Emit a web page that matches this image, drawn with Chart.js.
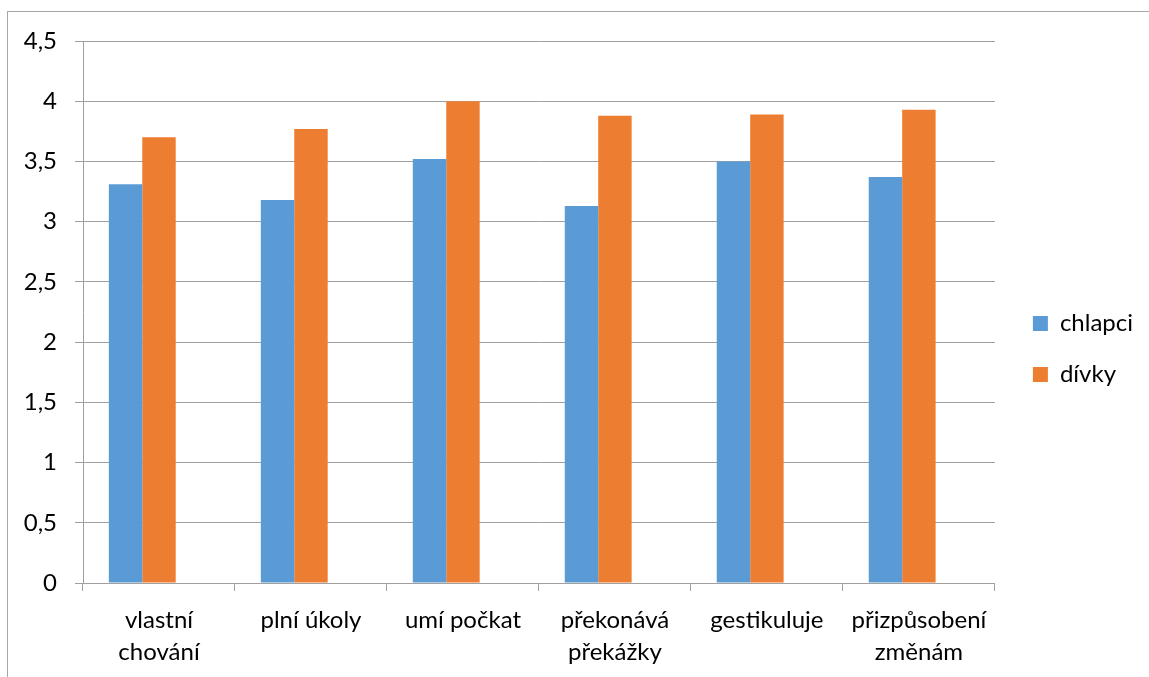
<!DOCTYPE html>
<html lang="cs">
<head>
<meta charset="utf-8">
<title>chlapci a dívky</title>
<script src="https://cdn.jsdelivr.net/npm/chart.js@4"></script>
<style>
  html, body { margin: 0; padding: 0; background: #ffffff; }
  #wrap { position: relative; width: 1149px; height: 677px; overflow: hidden; }
  #frame { position: absolute; left: 7px; top: 11px; width: 1200px; height: 700px;
           border-top: 1px solid #a6a6a6; border-left: 1px solid #a6a6a6; }
  #chart { position: absolute; left: 0; top: 0; }
</style>
</head>
<body>
<div id="wrap">
  <div id="frame"></div>
  <canvas id="chart" width="1149" height="677"></canvas>
</div>
<script>
// Categories (x axis), one group of bars each
const categories = [
  ['vlastní', 'chování'],
  'plní úkoly',
  'umí počkat',
  ['překonává', 'překážky'],
  'gestikuluje',
  ['přizpůsobení', 'změnám']
];

// Series values
const chlapci = [3.31, 3.18, 3.52, 3.13, 3.50, 3.37];
const divky   = [3.70, 3.77, 4.00, 3.88, 3.89, 3.93];
// third series of the sheet holds no values, but keeps its slot in each group
const prazdna = [null, null, null, null, null, null];

// Value axis ticks
const yTicks = [0, 0.5, 1, 1.5, 2, 2.5, 3, 3.5, 4, 4.5];

const gridColor = '#a0a0a0';
const textColor = '#000000';
const fontFamily = 'Lato, "Open Sans", sans-serif';
const fontSize = 24;

// moves the legend a little away from its layout slot
const legendShift = {
  id: 'legendShift',
  afterLayout(chart, args, opts) {
    const lg = chart.legend;
    if (lg) {
      lg.left += opts.dx; lg.right += opts.dx;
      lg.top += opts.dy; lg.bottom += opts.dy;
    }
  }
};

new Chart(document.getElementById('chart'), {
  type: 'bar',
  data: {
    labels: categories,
    datasets: [
      { label: 'chlapci', data: chlapci, backgroundColor: '#5B9BD5', borderWidth: 0 },
      { label: 'dívky',   data: divky,   backgroundColor: '#ED7D31', borderWidth: 0 },
      { label: '',        data: prazdna, backgroundColor: '#A5A5A5', borderWidth: 0 }
    ]
  },
  plugins: [legendShift],
  options: {
    responsive: false,
    animation: false,
    devicePixelRatio: 1,
    layout: { padding: { left: 0, top: 41, right: 17, bottom: 0 } },
    datasets: { bar: { categoryPercentage: 0.66, barPercentage: 1.0 } },
    plugins: {
      legendShift: { dx: 11, dy: -10 },
      tooltip: { enabled: false },
      legend: {
        position: 'right',
        align: 'center',
        labels: {
          boxWidth: 15,
          boxHeight: 15,
          padding: 27,
          color: textColor,
          font: { family: fontFamily, size: fontSize },
          filter: (item) => item.text !== ''
        }
      }
    },
    scales: {
      x: {
        afterFit: (scale) => { scale.height = 94; },
        grid: {
          display: true,
          offset: true,
          drawOnChartArea: false,
          drawTicks: true,
          tickLength: 8,
          color: gridColor,
          lineWidth: 1
        },
        border: { display: true, color: gridColor, width: 1 },
        ticks: {
          autoSkip: false,
          maxRotation: 0,
          minRotation: 0,
          padding: 13,
          color: textColor,
          font: { family: fontFamily, size: fontSize, lineHeight: 1.34 }
        }
      },
      y: {
        min: yTicks[0],
        max: yTicks[yTicks.length - 1],
        afterFit: (scale) => { scale.width = 83; },
        afterBuildTicks: (scale) => { scale.ticks = yTicks.map(v => ({ value: v })); },
        grid: {
          color: gridColor,
          lineWidth: 1,
          drawTicks: true,
          tickLength: 8
        },
        border: { display: true, color: gridColor, width: 1 },
        ticks: {
          padding: 18,
          color: textColor,
          font: { family: fontFamily, size: fontSize },
          callback: (v) => String(v).replace('.', ',')
        }
      }
    }
  }
});
</script>
</body>
</html>
